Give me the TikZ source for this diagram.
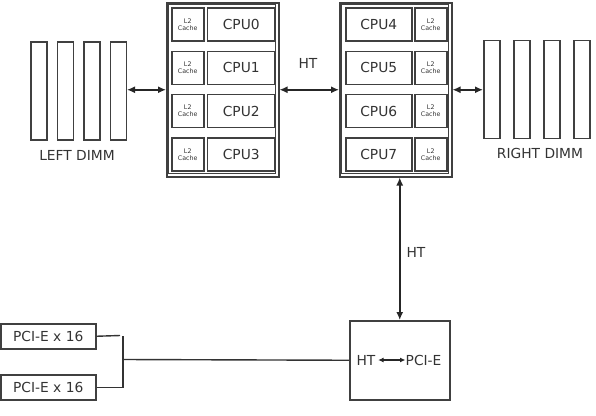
\documentclass[tikz,border=0pt]{standalone}
\usepackage{fontspec}
\setmainfont{DejaVu Sans}
\usetikzlibrary{arrows.meta}
\begin{document}
\begin{tikzpicture}[x=1pt,y=-1pt,
  every node/.style={text=black!80},
  box/.style={draw=black!75,line width=1.5pt,inner sep=0pt,anchor=north west},
  cpubox/.style={box,minimum width=67pt,minimum height=33pt,font=\fontsize{13.8}{16}\selectfont},
  cachebox/.style={box,minimum width=32pt,minimum height=33pt,align=center,font=\fontsize{6.3}{7}\selectfont},
  dimm/.style={box,minimum width=16pt,minimum height=98pt},
  lbl/.style={font=\fontsize{13.8}{16}\selectfont,inner sep=0pt},
  arr/.style={draw=black!85,line width=1.5pt,{Latex[length=8pt,width=7pt]}-{Latex[length=8pt,width=7pt]}},
  wire/.style={draw=black!80,line width=1.4pt}]
\useasboundingbox (0,0) rectangle (596,415);
% left CPU group
\node[box,minimum width=112pt,minimum height=174pt] (lg) at (166,2) {};
\draw[draw=black!75,line width=1.1pt] (168.6,4.6) rectangle (275.4,173.4);
\foreach \i/\n in {0/0,1/1,2/2,3/3}{
  \node[cachebox] (lc\n) at (171,{7.3+43.3*\i}) {L2\\Cache};
  \node[cpubox,minimum width=67.6pt] (lcpu\n) at (206.7,{7.3+43.3*\i}) {CPU\n};
}
% right CPU group
\node[box,minimum width=112pt,minimum height=174pt] (rg) at (339,2) {};
\draw[draw=black!75,line width=1.1pt] (341.6,4.6) rectangle (448.4,173.4);
\foreach \i/\n in {0/4,1/5,2/6,3/7}{
  \node[cpubox,minimum width=66pt] (rcpu\n) at (345,{7.3+43.3*\i}) {CPU\n};
  \node[cachebox] (rc\n) at (414,{7.3+43.3*\i}) {L2\\Cache};
}
% DIMMs
\foreach \k/\x in {1/30,2/56.7,3/83.3,4/109.5}{
  \node[dimm] (ld\k) at (\x,41) {};
}
\foreach \k/\x in {1/483,2/513,3/543,4/573}{
  \node[dimm] (rd\k) at (\x,39.5) {};
}
\node[lbl] (ldl) at (77,155) {LEFT DIMM};
\node[lbl] (rdl) at (540,153.5) {RIGHT DIMM};
% arrows
\draw[arr] (lg.west -| ld4.east) -- (lg.west);
\draw[arr] (lg.east) -- (rg.west);
\node[lbl] (ht1) at (308,63) {HT};
\draw[arr] (rg.east) -- (rg.east -| rd1.west);
% PCI-E bridge
\node[box,minimum width=100pt,minimum height=79pt] (pci) at (349,320) {};
\node[lbl] (pht) at (366,360) {HT};
\node[lbl,anchor=west] (ppe) at (405.5,360) {PCI-E};
\draw[draw=black!85,line width=1.1pt,{Latex[length=5.5pt,width=5pt]}-{Latex[length=5.5pt,width=5pt]}] (pht.east) ++(2.5,0) -- (ppe.west);
\draw[arr] (pci.north) -- (pci.north |- rg.south);
\node[lbl] (ht2) at (416,252) {HT};
% PCI-E x16 slots
\node[box,minimum width=95pt,minimum height=25pt,font=\fontsize{13.8}{16}\selectfont] (p1) at (0,323) {PCI-E x 16};
\node[box,minimum width=95pt,minimum height=25pt,font=\fontsize{13.8}{16}\selectfont] (p2) at (0,374) {PCI-E x 16};
\coordinate (j) at (123,359.5);
\coordinate (jt) at (120,335.5);
\draw[wire] (p1.east) -- (jt);
\draw[wire] (j |- p1.east) -- (j |- p2.east) -- (p2.east);
\draw[wire] (j) -- (pci.west);
\end{tikzpicture}
\end{document}
